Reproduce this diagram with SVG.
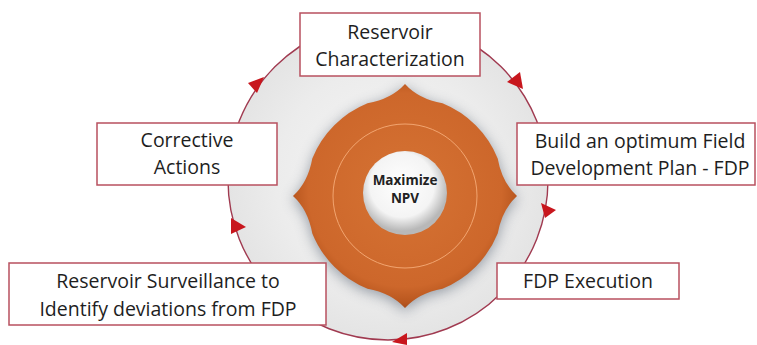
<svg xmlns="http://www.w3.org/2000/svg" width="757" height="345" viewBox="0 0 757 345">
  <defs>
    <style>
      .box { fill: #ffffff; stroke: #b8505f; stroke-width: 1.5; }
      .label { font-family: "Open Sans", "Noto Sans", "Liberation Sans", sans-serif; font-size: 19.5px; fill: #1e1e1e; text-anchor: middle; }
      .core { font-family: "Open Sans", "Noto Sans", "Liberation Sans", sans-serif; font-size: 13.5px; font-weight: bold; fill: #222222; text-anchor: middle; }
      .cycle { fill: none; stroke: #a03a50; stroke-width: 1.4; }
      .head { fill: #c8161d; }
    </style>
    <radialGradient id="diskFill" cx="0.5" cy="0.5" r="0.5">
      <stop offset="0" stop-color="#f6f6f6"/>
      <stop offset="0.7" stop-color="#ececec"/>
      <stop offset="1" stop-color="#e4e4e4"/>
    </radialGradient>
    <radialGradient id="ringFill" gradientUnits="userSpaceOnUse" cx="405" cy="190" r="118">
      <stop offset="0.35" stop-color="#d26e30"/>
      <stop offset="0.82" stop-color="#cd672b"/>
      <stop offset="0.95" stop-color="#b9571f"/>
      <stop offset="1" stop-color="#a84c1a"/>
    </radialGradient>
    <radialGradient id="holeFill" gradientUnits="userSpaceOnUse" cx="402" cy="185" r="46">
      <stop offset="0" stop-color="#ffffff"/>
      <stop offset="0.7" stop-color="#f4f4f4"/>
      <stop offset="1" stop-color="#b8b8b8"/>
    </radialGradient>
    <filter id="halo" x="-30%" y="-30%" width="160%" height="160%">
      <feGaussianBlur stdDeviation="7"/>
    </filter>
    <path id="plaque" d="M405,84 Q418.6,99 442.5,103.3 A100,100 0 0 1 497.7,158.5 Q502,182.4 517,196 Q502,209.6 497.7,233.5 A100,100 0 0 1 442.5,288.7 Q418.6,293 405,308 Q391.4,293 367.5,288.7 A100,100 0 0 1 312.3,233.5 Q308,209.6 293,196 Q308,182.4 312.3,158.5 A100,100 0 0 1 367.5,103.3 Q391.4,99 405,84 Z"/>
  </defs>

  <rect width="757" height="345" fill="#ffffff"/>

  <!-- backdrop disk of the cycle -->
  <circle cx="388" cy="180" r="160" fill="url(#diskFill)"/>

  <!-- cycle outline and arrowheads -->
  <g id="connectors">
    <circle class="cycle" cx="388" cy="180" r="160"/>
    <polygon class="head" points="248,83 264,77 257,93"/>
    <polygon class="head" points="507,82 520,72 523,89"/>
    <polygon class="head" points="541,203 556,210 545,218"/>
    <polygon class="head" points="231,218 246,227 231,234"/>
    <polygon class="head" points="392,342 407,333 407,345"/>
  </g>

  <!-- central goal -->
  <g id="core">
    <use href="#plaque" fill="#4a5566" opacity="0.55" filter="url(#halo)" transform="translate(0,3)"/>
    <use href="#plaque" fill="url(#ringFill)"/>
    <circle cx="405" cy="196" r="72" fill="none" stroke="#f2a570" stroke-width="1"/>
    <circle cx="405" cy="193" r="42" fill="url(#holeFill)"/>
    <text class="core" x="405" y="185">Maximize</text>
    <text class="core" x="405" y="203">NPV</text>
  </g>

  <g id="characterization">
    <rect class="box" x="300" y="13" width="180" height="63"/>
    <text class="label" x="390" y="39">Reservoir</text>
    <text class="label" x="390" y="66">Characterization</text>
  </g>

  <g id="fdp">
    <rect class="box" x="517" y="123" width="238" height="62"/>
    <text class="label" x="640" y="148">Build an optimum Field</text>
    <text class="label" x="640" y="175">Development Plan - FDP</text>
  </g>

  <g id="execution">
    <rect class="box" x="497" y="263" width="182" height="36"/>
    <text class="label" x="588" y="288">FDP Execution</text>
  </g>

  <g id="surveillance">
    <rect class="box" x="9" y="263" width="317" height="62"/>
    <text class="label" x="168" y="288">Reservoir Surveillance to</text>
    <text class="label" x="168" y="316">Identify deviations from FDP</text>
  </g>

  <g id="corrective">
    <rect class="box" x="97" y="123" width="180" height="62"/>
    <text class="label" x="187" y="147">Corrective</text>
    <text class="label" x="187" y="174">Actions</text>
  </g>
</svg>
